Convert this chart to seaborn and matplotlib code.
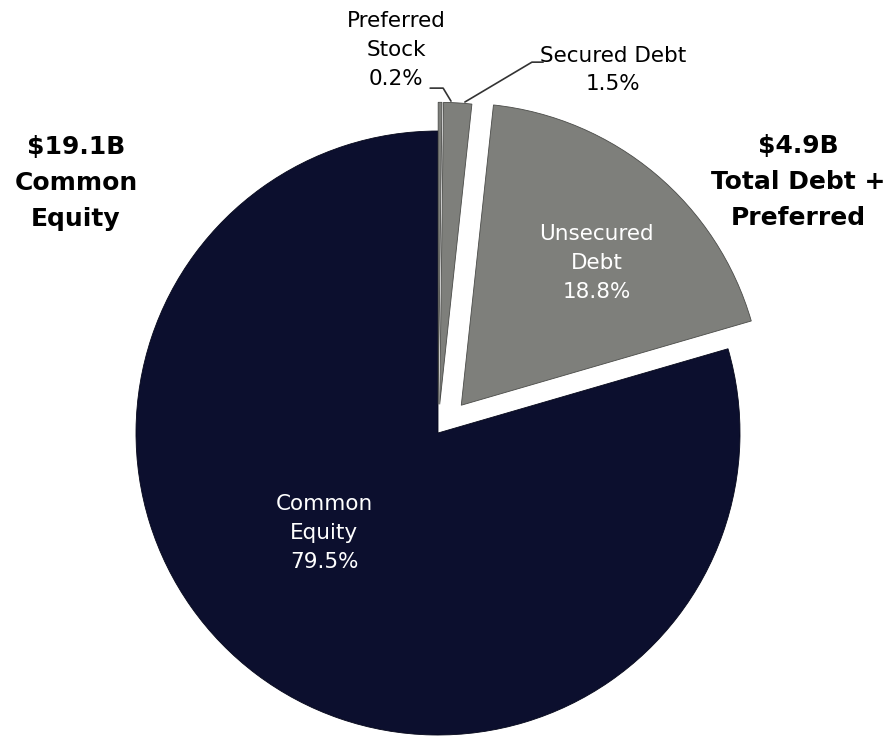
import matplotlib
matplotlib.use("Agg")
import matplotlib.pyplot as plt
import seaborn as sns

# Capital structure breakdown
categories = ["Common Equity", "Unsecured Debt", "Secured Debt", "Preferred Stock"]
shares = [79.5, 18.8, 1.5, 0.2]
slice_colors = ["#0c0f2e", "#7e7f7b", "#7e7f7b", "#7e7f7b"]
explode = [0.0, 0.12, 0.095, 0.095]

left_title = ["$19.1B", "Common", "Equity"]
right_title = ["$4.9B", "Total Debt +", "Preferred"]

sns.set_theme(style="white")
plt.rcParams["font.family"] = ["DejaVu Sans"]

fig = plt.figure(figsize=(8.86, 7.38), dpi=100)
ax = fig.add_axes([0, 0, 1, 1])

wedges, _ = ax.pie(
    shares,
    colors=slice_colors,
    explode=explode,
    startangle=90,
    counterclock=True,
    radius=1.0,
    wedgeprops=dict(edgecolor="#4a4b48", linewidth=0.6),
)
wedges[0].set_edgecolor("#05071a")

ax.set_aspect("equal")
ax.set_xlim(-1.4503, 1.4834)
ax.set_ylim(-1.0099, 1.4338)
ax.axis("off")


def pct(v):
    return f"{v:.1f}%"


label_kw = dict(fontsize=15.5, ha="center", va="center", linespacing=1.56)

# In-slice labels
ax.text(-0.377, -0.331, f"Common\nEquity\n{pct(shares[0])}", color="white", **label_kw)
ax.text(0.526, 0.563, f"Unsecured\nDebt\n{pct(shares[1])}", color="white", **label_kw)

# Outside labels with leader lines
ax.text(0.579, 1.202, f"Secured Debt\n{pct(shares[2])}", color="black", **label_kw)
ax.text(-0.139, 1.268, f"Preferred\nStock\n{pct(shares[3])}", color="black", **label_kw)
ax.plot([0.348, 0.311, 0.089], [1.228, 1.228, 1.096], color="#333333", lw=1.2)
ax.plot([-0.026, 0.017, 0.043], [1.142, 1.142, 1.099], color="#333333", lw=1.2)

# Group totals
title_kw = dict(color="black", fontsize=18, fontweight="bold", ha="center",
                va="center", linespacing=1.62)
ax.text(-1.199, 0.828, "\n".join(left_title), **title_kw)
ax.text(1.192, 0.831, "\n".join(right_title), **title_kw)

fig.savefig("out.png", dpi=100, facecolor="white")
